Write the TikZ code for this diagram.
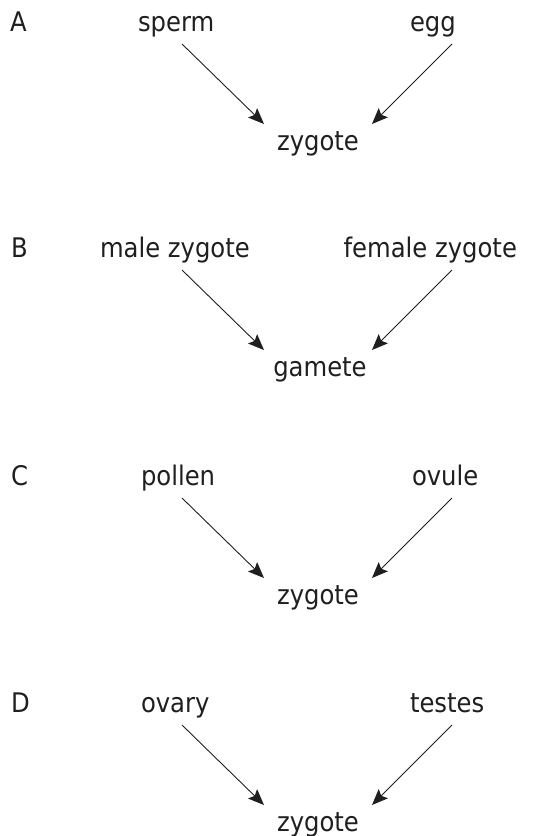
\documentclass[tikz,border=0pt]{standalone}
\usepackage{fontspec}
\setmainfont{DejaVu Sans Condensed}
\usetikzlibrary{arrows.meta}
\begin{document}
\begin{tikzpicture}[x=1pt,y=-1pt,
  lbl/.style={inner sep=0pt,outer sep=0pt,font=\fontsize{27}{31}\selectfont,text=black!88},
  arr/.style={draw=black!88,line width=0.9pt,-{Stealth[length=16pt,width=13pt,inset=3pt]}}]
\useasboundingbox (0,0) rectangle (548,836);
% Row A (baseline 31)
\node[lbl,anchor=base west] (LA) at (10,31) {A};
\node[lbl,anchor=base west] (a1) at (138,31) {sperm};
\node[lbl,anchor=base west] (a2) at (410,31) {egg};
\node[lbl,anchor=base] (a3) at (318,150) {zygote};
\coordinate (a1s) at (182,44);
\coordinate (a1e) at (264,124);
\coordinate (a2s) at (452,44);
\coordinate (a2e) at (372,124);
\draw[arr] (a1s) -- (a1e);
\draw[arr] (a2s) -- (a2e);
% Row B (baseline 257)
\node[lbl,anchor=base west] (LB) at (11,257) {B};
\node[lbl,anchor=base west] (b1) at (100,257) {male zygote};
\node[lbl,anchor=base east] (b2) at (517,257) {female zygote};
\node[lbl,anchor=base] (b3) at (320,376) {gamete};
\coordinate (b1s) at (182,270);
\coordinate (b1e) at (264,350);
\coordinate (b2s) at (452,270);
\coordinate (b2e) at (372,350);
\draw[arr] (b1s) -- (b1e);
\draw[arr] (b2s) -- (b2e);
% Row C (baseline 485)
\node[lbl,anchor=base west] (LC) at (11,485) {C};
\node[lbl,anchor=base west] (c1) at (141,485) {pollen};
\node[lbl,anchor=base west] (c2) at (412,485) {ovule};
\node[lbl,anchor=base] (c3) at (318,604) {zygote};
\coordinate (c1s) at (182,498);
\coordinate (c1e) at (264,578);
\coordinate (c2s) at (452,498);
\coordinate (c2e) at (372,578);
\draw[arr] (c1s) -- (c1e);
\draw[arr] (c2s) -- (c2e);
% Row D (baseline 712)
\node[lbl,anchor=base west] (LD) at (11,712) {D};
\node[lbl,anchor=base west] (d1) at (141,712) {ovary};
\node[lbl,anchor=base west] (d2) at (410,712) {testes};
\node[lbl,anchor=base] (d3) at (318,831) {zygote};
\coordinate (d1s) at (182,725);
\coordinate (d1e) at (264,805);
\coordinate (d2s) at (452,725);
\coordinate (d2e) at (372,805);
\draw[arr] (d1s) -- (d1e);
\draw[arr] (d2s) -- (d2e);
\end{tikzpicture}
\end{document}
